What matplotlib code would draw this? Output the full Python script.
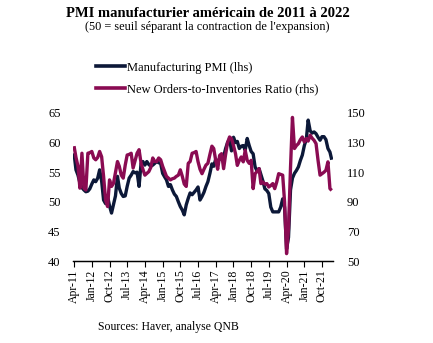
import matplotlib
matplotlib.use("Agg")
import matplotlib.pyplot as plt
import matplotlib.dates as mdates
from matplotlib.lines import Line2D
import pandas as pd

plt.rcParams["font.family"] = ["Liberation Serif", "DejaVu Serif"]

# monthly, Apr-2011 .. Mar-2022
start_month = "2011-04-01"

pmi = [
    58.2, 55.4, 54.5, 53.2, 52.4, 52.0, 51.7, 51.8, 52.2,
    53.0, 53.7, 53.4, 54.0, 55.4, 53.5, 50.3, 49.7, 50.9, 49.3, 48.1, 49.5, 51.0, 54.3, 52.3,
    51.4, 50.9, 51.0, 52.6, 54.0, 54.5, 55.1, 54.9, 55.0, 52.6, 56.5, 56.8,
    56.2, 56.8, 56.3, 56.0, 56.2, 56.5, 56.8, 56.6, 56.5, 54.8, 54.2, 53.7,
    52.6, 52.9, 52.0, 51.3, 50.9, 50.0, 49.2, 48.6, 47.8, 49.5, 50.6, 51.5,
    51.2, 51.6, 52.0, 52.5, 50.3, 50.9, 51.6, 52.6, 53.4, 54.8, 56.4, 56.0,
    57.2, 56.8, 57.2, 57.5, 57.6, 59.0, 60.0, 60.6, 58.6, 60.9, 60.0, 60.2,
    59.0, 59.4, 59.5, 58.7, 60.7, 59.5, 58.5, 58.1, 55.9, 55.2, 55.6, 54.6,
    53.5, 52.2, 51.9, 51.4, 49.1, 48.3, 48.3, 48.3, 48.3, 49.1, 50.5, 49.1,
    42.0, 44.0, 52.0, 54.0, 54.8, 55.3, 55.9, 57.0, 57.9, 59.5, 60.6, 63.8,
    62.0, 61.6, 61.8, 61.5, 60.9, 60.4, 61.0, 61.0, 60.5, 59.0, 58.4, 57.1,
]

no_inv_ratio = [
    127.6, 120.0, 114.0, 99.2, 122.8, 99.2, 98.0, 122.8, 123.2,
    124.0, 119.6, 118.4, 120.0, 124.0, 120.4, 107.2, 91.2, 86.8, 104.8, 100.4, 102.4, 110.0, 117.2, 114.0,
    108.0, 106.0, 114.8, 121.6, 122.0, 122.8, 112.8, 118.0, 122.8, 125.2, 116.0, 112.0,
    108.0, 109.2, 110.4, 113.2, 119.6, 117.2, 117.2, 119.6, 118.4, 114.0, 110.4, 107.2,
    106.0, 104.8, 105.6, 106.0, 107.2, 108.0, 111.6, 107.2, 102.0, 100.4, 116.0, 117.2,
    122.8, 123.2, 124.0, 117.2, 112.0, 109.0, 112.0, 114.8, 116.0, 122.0, 127.6, 126.0,
    118.0, 112.0, 121.4, 122.5, 112.4, 122.0, 130.0, 133.8, 132.7, 128.0, 122.5, 114.6,
    118.0, 120.3, 117.0, 124.8, 118.0, 116.0, 118.0, 98.9, 109.0, 110.5, 112.4, 102.3,
    103.4, 102.0, 102.3, 100.0, 101.0, 102.3, 98.9, 103.4, 109.0, 108.5, 108.0, 90.0,
    55.0, 72.0, 113.0, 147.0, 126.0, 128.0, 129.3, 132.0, 133.8, 130.4, 132.7, 131.0,
    135.0, 133.0, 131.5, 129.3, 118.0, 108.0, 109.0, 110.0, 111.3, 117.0, 98.9, 97.7,
]

dates = pd.date_range(start_month, periods=len(pmi), freq="MS")

navy = "#0c1838"
maroon = "#8a0b52"

fig = plt.figure(figsize=(4.33, 3.43), dpi=100)
ax = fig.add_axes([0.1686, 0.239, 0.6004, 0.4316])
ax2 = ax.twinx()

ax.plot(dates, pmi, color=navy, lw=2.4, solid_capstyle="butt")
ax2.plot(dates, no_inv_ratio, color=maroon, lw=2.4, solid_capstyle="butt")

ax.set_ylim(40, 65)
ax.set_yticks(range(40, 66, 5))
ax2.set_ylim(50, 150)
ax2.set_yticks(range(50, 151, 20))

ax.set_xlim(pd.Timestamp("2011-03-16"), pd.Timestamp("2022-03-20"))
ax.set_xticks(dates[::9])
ax.xaxis.set_major_formatter(mdates.DateFormatter("%b-%y"))
ax.tick_params(axis="x", rotation=90, labelsize=8.5, length=4, width=0.8, pad=2)
ax.tick_params(axis="y", length=0, labelsize=9, pad=9)
ax2.tick_params(axis="y", length=0, labelsize=9, pad=10)

for a in (ax, ax2):
    for s in ("top", "left", "right"):
        a.spines[s].set_visible(False)
    a.spines["bottom"].set_linewidth(0.9)

fig.text(0.48, 0.962, "PMI manufacturier américain de 2011 à 2022",
         ha="center", va="center", fontsize=10.5, fontweight="bold")
fig.text(0.478, 0.921, "(50 = seuil séparant la contraction de l'expansion)",
         ha="center", va="center", fontsize=8.8)

handles = [
    Line2D([], [], color=navy, lw=2.6),
    Line2D([], [], color=maroon, lw=2.6),
]
fig.legend(handles, ["Manufacturing PMI (lhs)", "New Orders-to-Inventories Ratio (rhs)"],
           loc="upper left", bbox_to_anchor=(0.196, 0.853), frameon=False,
           fontsize=9, handlelength=2.3, handletextpad=0.15, labelspacing=0.8)

fig.text(0.388, 0.047, "Sources: Haver, analyse QNB", ha="center", va="center", fontsize=8.5)

fig.savefig("out.png", dpi=100)
